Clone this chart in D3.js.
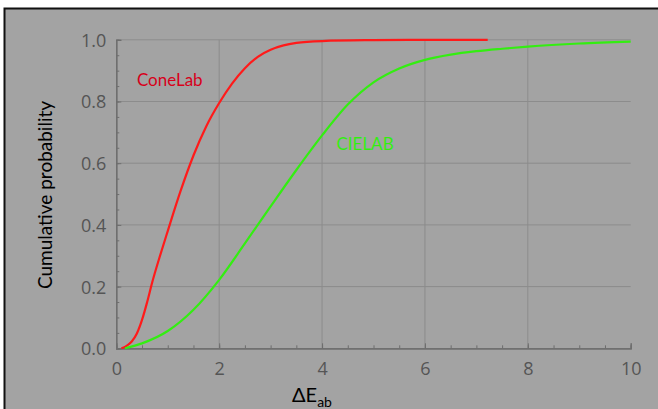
<!DOCTYPE html>
<html>
<head>
<meta charset="utf-8">
<script src="https://cdn.jsdelivr.net/npm/d3@7/dist/d3.min.js"></script>
<style>
  html, body { margin: 0; padding: 0; background: #ffffff; }
  svg { display: block; }
</style>
</head>
<body>
<svg id="chart" width="658" height="409"></svg>
<script>
// Cumulative distribution of colour difference ΔE_ab for two colour spaces
const coneLabX = [0.1, 0.2, 0.3, 0.4, 0.5, 0.6, 0.7, 0.85, 1.0, 1.25, 1.5, 1.75, 2.0, 2.25, 2.5, 2.75, 3.0, 3.25, 3.5, 4.0, 5.0, 6.0, 7.22];
const coneLabY = [0, 0.008, 0.022, 0.048, 0.092, 0.15, 0.215, 0.30, 0.38, 0.51, 0.625, 0.72, 0.795, 0.858, 0.908, 0.945, 0.968, 0.982, 0.99, 0.996, 0.999, 1.0, 1.0];

const cielabX = [0.17, 0.5, 1.0, 1.5, 2.0, 2.5, 3.0, 3.5, 4.0, 4.5, 5.0, 5.5, 6.0, 6.5, 7.0, 7.5, 8.0, 9.0, 10];
const cielabY = [0, 0.016, 0.056, 0.125, 0.222, 0.34, 0.46, 0.578, 0.69, 0.79, 0.862, 0.907, 0.935, 0.952, 0.963, 0.971, 0.978, 0.988, 0.994];

const xTicks = [0, 2, 4, 6, 8, 10];
const yTicks = [0, 0.2, 0.4, 0.6, 0.8, 1.0];

const seriesNames = ["ConeLab", "CIELAB"];
const labelX = [0.40, 4.28];
const labelY = [0.85, 0.643];

const svg = d3.select("#chart");
const W = 658, H = 409;

// Grey panel with a dark frame on the left and top edges
svg.append("rect").attr("x", 4).attr("y", 8).attr("width", W - 4).attr("height", H - 8).attr("fill", "#a3a3a3");
svg.append("path").attr("d", `M4.5,${H} L4.5,8.5 L${W},8.5`).attr("fill", "none").attr("stroke", "#111").attr("stroke-width", 2);

const x = d3.scaleLinear().domain([0, 10]).range([116.3, 630.7]);
const y = d3.scaleLinear().domain([0, 1]).range([348.3, 39.8]);

const gridColor = "#8c8c8c";
const axisColor = "#6e6e6e";

// Grid lines
const grid = svg.append("g");
grid.selectAll("line.v").data(xTicks.filter(d => d > 0 && d < 10)).join("line")
  .attr("x1", d => x(d)).attr("x2", d => x(d))
  .attr("y1", y(0)).attr("y2", y(1))
  .attr("stroke", gridColor).attr("stroke-width", 1);
grid.selectAll("line.h").data(yTicks.filter(d => d > 0)).join("line")
  .attr("x1", x(0)).attr("x2", x(10))
  .attr("y1", d => y(d)).attr("y2", d => y(d))
  .attr("stroke", gridColor).attr("stroke-width", 1);

// Axes: minor ticks pointing inward, then major ticks with labels
const xMinor = d3.range(0, 10.001, 0.5);
const yMinor = d3.range(0, 1.0001, 0.05);

const xAxisMinor = svg.append("g").attr("transform", `translate(0,${y(0)})`)
  .call(d3.axisBottom(x).tickValues(xMinor).tickSize(-3).tickFormat(""));
const xAxis = svg.append("g").attr("transform", `translate(0,${y(0)})`)
  .call(d3.axisBottom(x).tickValues(xTicks).tickSize(-5).tickPadding(14).tickFormat(d3.format("d")));

const yAxisMinor = svg.append("g").attr("transform", `translate(${x(0)},0)`)
  .call(d3.axisLeft(y).tickValues(yMinor).tickSize(-3).tickFormat(""));
const yAxis = svg.append("g").attr("transform", `translate(${x(0)},0)`)
  .call(d3.axisLeft(y).tickValues(yTicks).tickSize(-5).tickPadding(10).tickFormat(d3.format(".1f")));

[xAxisMinor, xAxis, yAxisMinor, yAxis].forEach(g => {
  g.selectAll("path.domain").attr("stroke", axisColor).attr("stroke-width", 1.2);
  g.selectAll(".tick line").attr("stroke", axisColor);
  g.selectAll("text")
    .attr("fill", "#555555")
    .style("font-family", "'Open Sans', sans-serif")
    .style("font-size", "18px");
});
xAxis.selectAll("text").attr("dy", "0.71em");
yAxis.selectAll("text").attr("dy", "0.36em");

// Curves
const line = d3.line().x(d => x(d[0])).y(d => y(d[1])).curve(d3.curveMonotoneX);
const series = [
  { pts: d3.zip(coneLabX, coneLabY), color: "#ff1a1a", text: "#d8001a" },
  { pts: d3.zip(cielabX, cielabY), color: "#33ee11", text: "#33ee11" }
];
series.forEach((s, i) => {
  svg.append("path").attr("d", line(s.pts))
    .attr("fill", "none").attr("stroke", s.color).attr("stroke-width", 2.2)
    .attr("stroke-linejoin", "round").attr("stroke-linecap", "butt");
  svg.append("text")
    .attr("x", x(labelX[i])).attr("y", y(labelY[i]))
    .attr("fill", s.text)
    .style("font-family", "Lato, sans-serif").style("font-size", "17px")
    .text(seriesNames[i]);
});

// Axis titles
svg.append("text")
  .attr("transform", `translate(52,195) rotate(-90)`)
  .attr("text-anchor", "middle")
  .attr("fill", "#000")
  .style("font-family", "Lato, sans-serif").style("font-size", "19px")
  .text("Cumulative probability");

const xt = svg.append("text")
  .attr("x", 292).attr("y", 402)
  .attr("fill", "#000")
  .style("font-family", "Lato, sans-serif").style("font-size", "20px");
xt.append("tspan").text("ΔE");
xt.append("tspan").attr("dy", 5).style("font-size", "14px").text("ab");
</script>
</body>
</html>
